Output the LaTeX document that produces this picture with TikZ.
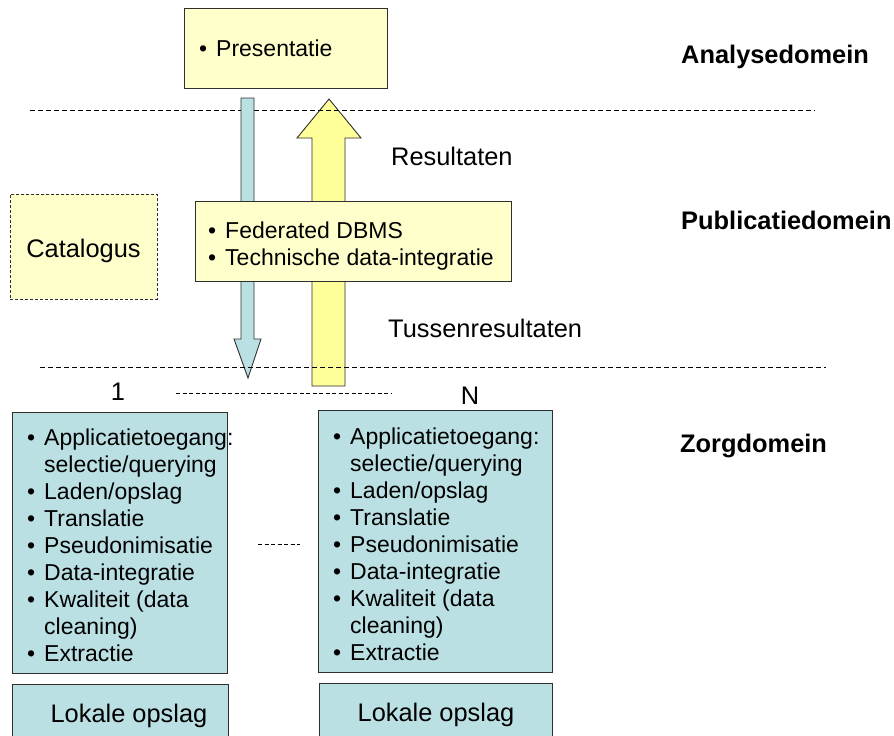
\documentclass[tikz,border=0pt]{standalone}
\usepackage{fontspec}
\setmainfont{Liberation Sans}
\definecolor{paleyellow}{HTML}{FFFFCC}
\definecolor{arrowyellow}{HTML}{FFFF99}
\definecolor{paleblue}{HTML}{BBE0E3}
\definecolor{edgegray}{HTML}{2E2E2E}
% bullet and continuation indents for list lines
\newcommand{\bitem}{\makebox[17pt][l]{•}}
\newcommand{\bcont}{\hspace*{17pt}}
\begin{document}
\begin{tikzpicture}[x=1pt,y=-1pt,
  yelbox/.style={draw=edgegray,line width=0.9pt,fill=paleyellow,inner sep=0,anchor=north west},
  bluebox/.style={draw=edgegray,line width=0.9pt,fill=paleblue,inner sep=0,anchor=north west},
  domline/.style={line width=0.8pt,dash pattern=on 5pt off 3pt},
  listtxt/.style={anchor=base west,inner sep=0,font=\fontsize{23}{27}\selectfont},
  plaintxt/.style={inner sep=0,font=\fontsize{25.4}{30}\selectfont},
  domlabel/.style={anchor=base west,inner sep=0,font=\fontsize{25.4}{30}\selectfont\bfseries},
  blockarrow/.style={draw=edgegray,line width=0.9pt,line join=miter}]
\useasboundingbox (0,0) rectangle (894,736);
\clip (0,0) rectangle (894,736);

% top box
\node[yelbox,minimum width=203pt,minimum height=80pt] (pres) at (184,8) {};
\node[listtxt] (presT) at (199,56) {\bitem Presentatie};

% upward result arrow
\draw[blockarrow,fill=arrowyellow] (312,386) -- (312,138) -- (297,138) -- (329,99)
  -- (361,138) -- (345,138) -- (345,386) -- cycle;

% upper domain boundary
\draw[domline] (30,110) -- (815,110);

% downward query arrow
\draw[blockarrow,fill=paleblue] (241,98) -- (254,98) -- (254,339) -- (261,339)
  -- (248,378) -- (234,339) -- (241,339) -- cycle;

% lower domain boundary
\draw[domline] (40,367.5) -- (826,367.5);

% federation layer
\node[yelbox,minimum width=316pt,minimum height=80pt] (fed) at (195,201) {};
\node[listtxt] (fedA) at (208,238) {\bitem Federated DBMS};
\node[listtxt] (fedB) at (208,265) {\bitem Technische data-integratie};

% catalogue
\node[yelbox,dashed,dash pattern=on 3pt off 2pt,minimum width=147pt,minimum height=105pt] (cat) at (10,194) {};
\node[plaintxt,anchor=base] (catT) at (83.5,257) {Catalogus};

% flow labels
\node[plaintxt,anchor=base west] (res) at (391,165) {Resultaten};
\node[plaintxt,anchor=base west] (tus) at (388,337) {Tussenresultaten};

% domain labels
\node[domlabel] (dA) at (681,63) {Analysedomein};
\node[domlabel] (dP) at (681,229) {Publicatiedomein};
\node[domlabel] (dZ) at (680,452) {Zorgdomein};

% source numbering
\node[plaintxt,anchor=base] (one) at (118,400) {1};
\node[plaintxt,anchor=base] (en) at (470,404) {N};
\draw[domline,dash pattern=on 4pt off 2.5pt] (176,393) -- (392,393);

% care-domain sources
\node[bluebox,minimum width=215pt,minimum height=261pt] (src1) at (12,412) {};
\node[bluebox,minimum width=234pt,minimum height=262pt] (srcN) at (318,410) {};
\draw[domline,dash pattern=on 4pt off 2.5pt] (258,544) -- (300,544);

\foreach [count=\i] \t in {\bitem Applicatietoegang:,\bcont selectie/querying,
  \bitem Laden/opslag,\bitem Translatie,\bitem Pseudonimisatie,\bitem Data-integratie,
  \bitem Kwaliteit (data,\bcont cleaning),\bitem Extractie}{
  \node[listtxt] (s1l\i) at (27,{445+27.1*(\i-1)}) {\t};
  \node[listtxt] (sNl\i) at (333,{444+27.1*(\i-1)}) {\t};
}

% local storage
\node[bluebox,minimum width=216pt,minimum height=70pt] (loc1) at (12,684) {};
\node[plaintxt,anchor=base] (loc1T) at (129,722) {Lokale opslag};
\node[bluebox,minimum width=233pt,minimum height=70pt] (locN) at (319,683) {};
\node[plaintxt,anchor=base] (locNT) at (436,721) {Lokale opslag};
\end{tikzpicture}
\end{document}
